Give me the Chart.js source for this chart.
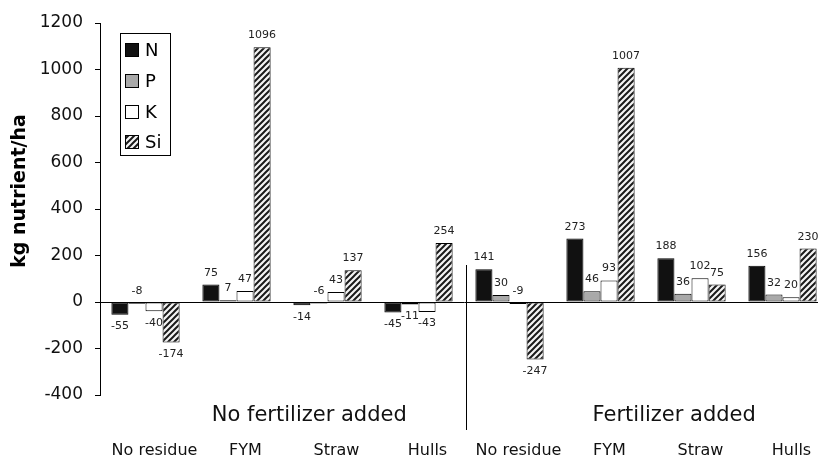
<!DOCTYPE html>
<html>
<head>
<meta charset="utf-8">
<script src="https://cdn.jsdelivr.net/npm/chart.js@4.4.1/dist/chart.umd.min.js"></script>
<style>
  html, body { margin: 0; padding: 0; background: #fff; overflow: hidden; }
  #wrap { width: 828px; height: 459px; }
</style>
</head>
<body>
<div id="wrap"><canvas id="c" width="828" height="459"></canvas></div>
<script>
const categories = ['No residue', 'FYM', 'Straw', 'Hulls', 'No residue', 'FYM', 'Straw', 'Hulls'];
const seriesNames = ['N', 'P', 'K', 'Si'];
const nValues  = [-55, 75, -14, -45, 141, 273, 188, 156];
const pValues  = [-8, 7, -6, -11, 30, 46, 36, 32];
const kValues  = [-40, 47, 43, -43, -9, 93, 102, 20];
const siValues = [-174, 1096, 137, 254, -247, 1007, 75, 230];
const groupLabels = ['No fertilizer added', 'Fertilizer added'];
const yAxisTitle = 'kg nutrient/ha';
const yMin = -400, yMax = 1200, yStep = 200;

function hatchPattern() {
  const c = document.createElement('canvas');
  c.width = 6; c.height = 6;
  const x = c.getContext('2d');
  x.fillStyle = '#f4f4f4';
  x.fillRect(0, 0, 6, 6);
  x.strokeStyle = '#1a1a1a';
  x.lineWidth = 2;
  x.beginPath();
  x.moveTo(0, 6); x.lineTo(6, 0);
  x.moveTo(-3, 3); x.lineTo(3, -3);
  x.moveTo(3, 9); x.lineTo(9, 3);
  x.stroke();
  return x.createPattern(c, 'repeat');
}
const hatch = hatchPattern();
const fills = ['#111111', '#a9a9a9', '#ffffff', hatch];
const seriesValues = [nValues, pValues, kValues, siValues];

const datasets = seriesNames.map((name, i) => ({
  label: name,
  data: seriesValues[i],
  backgroundColor: fills[i],
  borderColor: '#000',
  borderWidth: 1,
  borderSkipped: false,
  categoryPercentage: 0.75,
  barPercentage: 1.0
}));

const labelPlugin = {
  id: 'barLabels',
  afterDatasetsDraw(chart) {
    const ctx = chart.ctx;
    ctx.save();
    ctx.font = '11px "DejaVu Sans"';
    ctx.fillStyle = '#222';
    ctx.textAlign = 'center';
    chart.data.datasets.forEach((ds, di) => {
      const meta = chart.getDatasetMeta(di);
      meta.data.forEach((bar, i) => {
        const v = ds.data[i];
        if (v >= 0 || v > -10) {
          ctx.textBaseline = 'alphabetic';
          ctx.fillText(String(v), bar.x, Math.min(bar.y, bar.base) - 9);
        } else {
          ctx.textBaseline = 'top';
          ctx.fillText(String(v), bar.x, bar.y + 6);
        }
      });
    });
    ctx.restore();
  }
};

const decorPlugin = {
  id: 'decor',
  afterDraw(chart) {
    const ctx = chart.ctx;
    const xs = chart.scales.x;
    ctx.save();
    // separator
    const sx = Math.round(xs.getPixelForValue(3.52)) + 0.5;
    ctx.strokeStyle = '#000';
    ctx.lineWidth = 1;
    ctx.beginPath();
    ctx.moveTo(sx, 265);
    ctx.lineTo(sx, 430);
    ctx.stroke();
    // group labels
    ctx.fillStyle = '#111';
    ctx.font = '21px "DejaVu Sans"';
    ctx.textAlign = 'center';
    ctx.textBaseline = 'middle';
    ctx.fillText(groupLabels[0], xs.getPixelForValue(1.8), 416);
    ctx.fillText(groupLabels[1], xs.getPixelForValue(5.81), 416);
    // y title
    ctx.save();
    ctx.translate(20, 191);
    ctx.rotate(-Math.PI / 2);
    ctx.font = 'bold 19px "DejaVu Sans"';
    ctx.fillStyle = '#000';
    ctx.fillText(yAxisTitle, 0, 0);
    ctx.restore();
    // legend
    ctx.fillStyle = '#fff';
    ctx.fillRect(120, 33, 50, 122);
    ctx.strokeStyle = '#000';
    ctx.strokeRect(120.5, 33.5, 50, 122);
    const rows = [50, 81, 112, 142];
    ctx.font = '18px "DejaVu Sans"';
    ctx.textAlign = 'left';
    ctx.textBaseline = 'middle';
    chart.data.datasets.forEach((ds, i) => {
      const cy = rows[i];
      ctx.fillStyle = ds.backgroundColor;
      ctx.fillRect(125, cy - 7, 14, 14);
      ctx.strokeStyle = '#000';
      ctx.strokeRect(125.5, cy - 6.5, 13, 13);
      ctx.fillStyle = '#000';
      ctx.fillText(ds.label, 145, cy + 1);
    });
    ctx.restore();
  }
};

new Chart(document.getElementById('c'), {
  type: 'bar',
  data: { labels: categories, datasets },
  options: {
    responsive: false,
    animation: false,
    layout: { padding: { top: 23, left: 0, right: 0, bottom: 0 } },
    plugins: { legend: { display: false }, tooltip: { enabled: false } },
    scales: {
      x: {
        grid: {
          display: true,
          drawOnChartArea: false,
          drawTicks: true,
          tickLength: 43,
          color: 'rgba(0,0,0,0)',
          tickColor: 'rgba(0,0,0,0)'
        },
        border: { display: false },
        ticks: {
          font: { family: '"DejaVu Sans"', size: 16 },
          color: '#111',
          padding: 3,
          labelOffset: 9,
          maxRotation: 0,
          autoSkip: false
        },
        afterFit(scale) {
          scale.height = 64;
          scale.paddingLeft = 0;
          scale.paddingRight = 0;
        }
      },
      y: {
        min: yMin, max: yMax,
        ticks: {
          stepSize: yStep,
          font: { family: '"DejaVu Sans"', size: 17 },
          color: '#111',
          padding: 12,
          callback: (v) => String(v)
        },
        grid: {
          color: (c) => (c.tick && c.tick.value === 0 ? '#000' : 'rgba(0,0,0,0)'),
          tickColor: '#000',
          tickLength: 5,
          lineWidth: 1
        },
        border: { display: true, color: '#000', width: 1 },
        afterFit(scale) { scale.width = 100; }
      }
    }
  },
  plugins: [labelPlugin, decorPlugin]
});
</script>
</body>
</html>
